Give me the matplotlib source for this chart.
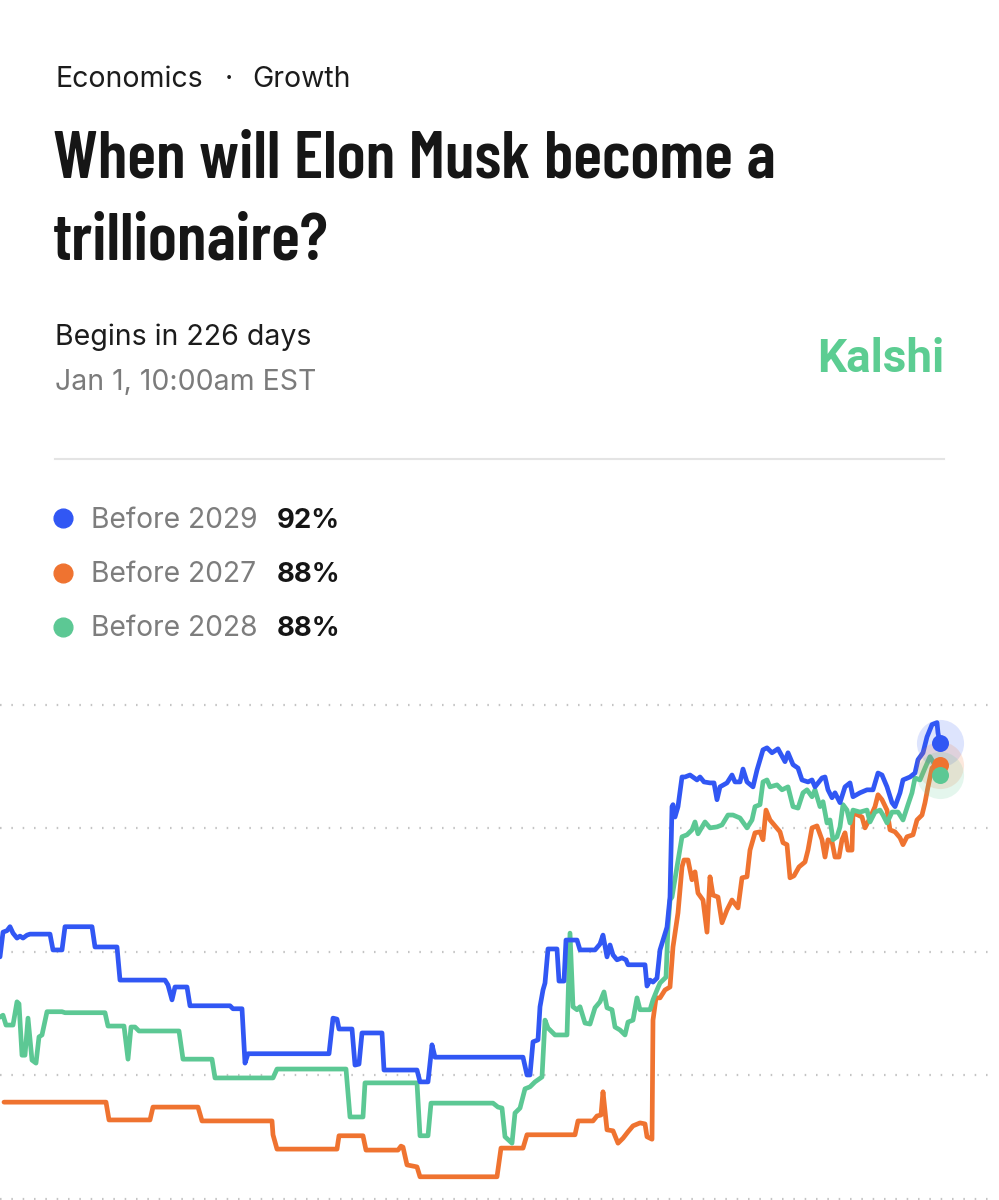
import matplotlib
matplotlib.use("Agg")
import matplotlib.pyplot as plt
from matplotlib import font_manager as fm
from matplotlib.lines import Line2D

# ---- data (chance in %) ----
t_2029 = [0, 3, 7, 10, 13, 17, 20, 23, 27, 30, 50, 53, 62, 65, 92, 95, 117, 120,
          165, 168, 172, 175, 187, 190, 230, 233, 242, 245, 248, 329, 333, 337,
          339, 352, 355, 359, 362, 382, 384, 417, 420, 428, 432, 435, 523, 527,
          530, 533, 538, 540, 543, 545, 548, 557, 559, 564, 566, 577, 580, 595,
          600, 603, 607, 610, 613, 617, 622, 626, 628, 645, 647, 650, 653, 657,
          660, 663, 667, 670, 672, 673, 675, 678, 682, 685, 690, 697, 700, 704,
          710, 714, 717, 720, 727, 732, 735, 740, 743, 747, 753, 757, 763, 767,
          772, 778, 785, 788, 793, 798, 802, 808, 812, 815, 822, 825, 828, 832,
          835, 840, 845, 850, 853, 860, 867, 873, 878, 882, 887, 892, 895, 900,
          903, 910, 915, 918, 923, 927, 932, 937, 938, 940]
v_2029 = [49.0, 54.0, 54.3, 55.1, 53.8, 52.8, 53.2, 52.8, 53.4, 53.6, 53.6, 50.4,
          50.4, 55.1, 55.1, 51.0, 51.0, 44.3, 44.3, 43.3, 40.3, 42.9, 42.9, 39.1,
          39.1, 38.5, 38.5, 27.5, 29.4, 29.4, 36.6, 36.4, 34.4, 34.4, 27.1, 27.3,
          33.6, 33.6, 26.1, 26.1, 23.7, 23.7, 31.2, 28.7, 28.7, 25.1, 25.1, 31.8,
          32.2, 38.9, 42.3, 43.7, 50.6, 50.6, 44.1, 44.1, 52.4, 52.4, 50.4, 50.4,
          51.6, 53.4, 49.0, 51.4, 49.4, 48.4, 48.8, 48.4, 47.4, 47.4, 43.1, 44.3,
          43.9, 44.7, 50.4, 52.4, 55.0, 61.1, 79.4, 79.8, 77.3, 79.4, 85.4, 85.4,
          85.8, 84.8, 85.4, 84.4, 84.2, 84.2, 80.8, 83.4, 84.2, 85.8, 84.4, 84.4,
          87.0, 84.4, 83.4, 86.8, 90.9, 91.3, 90.3, 91.1, 88.5, 90.3, 87.9, 87.2,
          84.8, 84.4, 84.8, 83.4, 85.2, 85.4, 82.8, 81.2, 82.2, 80.2, 83.4, 84.2,
          81.4, 82.2, 82.8, 82.8, 86.2, 85.8, 83.4, 80.2, 79.4, 82.2, 84.8, 85.4,
          86.2, 88.9, 90.3, 93.5, 96.0, 96.4, 94.3, 92.3]

t_2027 = [4, 106, 109, 150, 153, 198, 202, 272, 273, 277, 337, 339, 363, 366, 398,
          401, 403, 407, 417, 420, 497, 501, 523, 527, 575, 578, 593, 597, 601,
          603, 607, 613, 618, 623, 628, 633, 640, 645, 647, 652, 653, 656, 660,
          665, 670, 673, 678, 682, 684, 688, 692, 695, 698, 703, 707, 710, 713,
          718, 722, 727, 732, 738, 742, 747, 750, 755, 760, 763, 766, 770, 775,
          780, 783, 787, 790, 794, 799, 805, 808, 812, 817, 822, 825, 828, 832,
          835, 839, 842, 845, 848, 852, 853, 858, 862, 865, 870, 875, 878, 882,
          887, 890, 895, 900, 903, 907, 913, 917, 922, 925, 928, 932, 937, 940]
v_2027 = [19.6, 19.6, 16.0, 16.0, 18.6, 18.6, 15.8, 15.8, 13.0, 10.1, 10.1, 12.8,
          12.8, 9.9, 9.9, 10.7, 10.5, 6.9, 6.5, 4.5, 4.5, 10.3, 10.3, 13.0, 13.0,
          15.8, 15.8, 16.8, 17.0, 21.7, 14.0, 13.8, 11.3, 12.3, 13.6, 14.8, 15.4,
          15.2, 12.6, 12.1, 36.2, 40.7, 40.7, 42.3, 42.9, 51.0, 57.9, 67.2, 68.6,
          68.6, 64.6, 66.2, 61.9, 60.5, 54.0, 65.2, 61.5, 61.1, 55.9, 58.5, 60.5,
          58.9, 65.0, 65.2, 70.6, 74.1, 74.3, 72.7, 78.7, 76.7, 75.5, 74.3, 72.1,
          71.7, 65.0, 65.4, 67.2, 68.2, 70.6, 75.1, 75.5, 72.7, 69.2, 72.7, 72.3,
          69.2, 69.2, 72.7, 74.1, 70.6, 70.6, 78.1, 77.7, 77.3, 75.1, 77.1, 79.4,
          81.8, 80.8, 78.7, 74.7, 74.3, 73.1, 71.7, 73.3, 73.7, 76.7, 77.7, 80.2,
          83.4, 87.2, 88.3, 87.9]

t_2028 = [0, 3, 6, 13, 17, 19, 22, 25, 28, 32, 36, 39, 42, 47, 62, 65, 105, 108,
          124, 128, 131, 135, 139, 179, 183, 212, 215, 273, 277, 346, 350, 363,
          365, 417, 420, 428, 431, 493, 498, 502, 505, 512, 515, 520, 525, 530,
          535, 542, 545, 548, 555, 567, 570, 573, 577, 580, 585, 590, 595, 600,
          604, 607, 612, 615, 620, 625, 628, 633, 637, 640, 650, 653, 657, 660,
          666, 668, 670, 672, 677, 682, 687, 692, 695, 698, 705, 710, 717, 722,
          728, 733, 740, 747, 752, 755, 760, 763, 767, 770, 777, 782, 788, 793,
          798, 803, 807, 812, 815, 820, 823, 827, 830, 833, 837, 840, 843, 847,
          850, 853, 860, 867, 870, 875, 880, 883, 887, 892, 898, 903, 908, 912,
          915, 920, 925, 930, 933, 940]
v_2028 = [36.8, 37.2, 35.2, 35.2, 39.9, 39.5, 29.1, 29.1, 36.6, 28.1, 27.5, 32.8,
          33.2, 37.9, 37.9, 37.7, 37.7, 35.0, 35.0, 28.3, 34.8, 34.8, 34.0, 34.0,
          28.3, 28.3, 24.5, 24.5, 26.3, 26.3, 16.6, 16.6, 23.5, 23.5, 12.8, 12.8,
          19.4, 19.4, 18.6, 18.4, 12.6, 11.3, 17.4, 18.4, 22.3, 22.7, 23.7, 24.7,
          36.2, 34.6, 33.2, 33.2, 53.8, 38.9, 38.3, 38.9, 35.6, 35.4, 38.7, 39.9,
          41.9, 38.7, 38.3, 34.8, 34.2, 33.2, 35.8, 36.2, 40.7, 38.3, 38.3, 40.3,
          42.3, 43.7, 44.9, 55.1, 60.5, 61.1, 67.2, 73.3, 73.7, 74.7, 76.3, 73.9,
          76.3, 75.1, 75.3, 75.7, 77.7, 77.7, 77.1, 75.1, 76.7, 79.4, 79.8, 84.4,
          84.8, 83.4, 83.8, 82.8, 83.4, 79.4, 79.1, 82.2, 82.8, 81.4, 82.8, 79.4,
          80.4, 76.1, 76.7, 72.7, 73.3, 75.3, 79.8, 78.7, 76.1, 78.7, 78.3, 78.7,
          76.3, 78.3, 78.7, 77.7, 76.1, 78.3, 78.3, 76.7, 79.8, 82.2, 85.2, 84.8,
          87.2, 89.5, 88.5, 85.8]

labels = ["Before 2029", "Before 2027", "Before 2028"]
current = ["92%", "88%", "88%"]
colors = ["#3157f4", "#ef7330", "#5cc894"]
gridvals = [0, 25, 50, 75, 100]

breadcrumb = ["Economics", "\u00b7", "Growth"]
title_lines = ["When will Elon Musk become a", "trillionaire?"]

W, H = 999, 1200
fig = plt.figure(figsize=(W / 100, H / 100), dpi=100)
fig.patch.set_facecolor("white")
renderer = fig.canvas.get_renderer()

SANS = ["Inter", "Roboto", "DejaVu Sans"]


def px(x, y):
    return x / W, 1 - y / H


def title_font():
    """Pick a bold condensed face and a size so line 1 is ~723 px wide."""
    cands = []
    for f in fm.fontManager.ttflist:
        name = (f.fname + " " + f.name).lower()
        w = f.weight if isinstance(f.weight, int) else 700 * (f.weight == "bold")
        if w >= 600 and ("condensed" in name or "narrow" in name) \
                and "italic" not in name and "oblique" not in name:
            cands.append(fm.FontProperties(fname=f.fname))
    cands.append(fm.FontProperties(family="Roboto", weight="bold"))
    best = None
    for fp in cands:
        fp.set_size(40)
        t = fig.text(0, 0, title_lines[0], fontproperties=fp)
        wpx = t.get_window_extent(renderer).width
        t.remove()
        size = 40 * 723 / wpx
        score = abs(size - 48.5)
        if best is None or score < best[0]:
            best = (score, fp, size)
    fp = best[1].copy()
    fp.set_size(min(best[2], 49))
    return fp


# header
for word, x, ha in zip(breadcrumb, [55, 229, 252], ["left", "center", "left"]):
    fig.text(*px(x, 87), word, family=SANS, fontsize=20.5, color="#1c1c1c",
             va="baseline", ha=ha)
tfp = title_font()
for i, line in enumerate(title_lines):
    fig.text(*px(53, 177 + 83 * i), line, fontproperties=tfp,
             color="#161616", va="baseline")
fig.text(*px(55, 345), "Begins in 226 days", family=SANS, fontsize=20.5,
         color="#1c1c1c", va="baseline")
fig.text(*px(55, 390), "Jan 1, 10:00am EST", family=SANS, fontsize=20.5,
         color="#7b7b7b", va="baseline")
fig.text(*px(944, 372), "Kalshi", family=["Roboto", "DejaVu Sans"], fontsize=33,
         weight="bold", color="#5ccd92", va="baseline", ha="right")
fig.add_artist(Line2D([55 / W, 944 / W], [1 - 459 / H] * 2, color="#e4e4e4",
                      lw=1.5, transform=fig.transFigure))

# legend rows
for i, (lab, cur, c) in enumerate(zip(labels, current, colors)):
    yc = 518 + 54.5 * i
    fig.add_artist(Line2D([63 / W], [1 - yc / H], marker="o", markersize=13.5,
                          color=c, transform=fig.transFigure))
    fig.text(*px(91, yc + 9.5), lab, family=SANS, fontsize=20.3,
             color="#7d7d7d", va="baseline")
    fig.text(*px(277, yc + 9.5), cur, family=SANS, fontsize=19.8,
             weight="bold", color="#151515", va="baseline")

# chart
ax = fig.add_axes([0, 0, 1, 510 / H])
ax.set_xlim(0, W)
ax.set_ylim(-0.2, 103.0)
ax.axis("off")
for g in gridvals:
    ax.axhline(g, xmin=0, xmax=0.992, color="#c4c4c4", lw=1.6,
               linestyle=(0, (0.7, 4.4)), zorder=1)

series = [(t_2027, v_2027, colors[1]), (t_2028, v_2028, colors[2]),
          (t_2029, v_2029, colors[0])]
for t, v, c in series:
    ax.plot(t, v, color=c, lw=3.4, solid_joinstyle="round",
            solid_capstyle="round", zorder=3)

# end markers with halos
ends = [(t_2029, v_2029, colors[0]), (t_2027, v_2027, colors[1]),
        (t_2028, v_2028, colors[2])]
for t, v, c in ends:
    ax.scatter([t[-1]], [v[-1]], s=1150, color=c, alpha=0.16, lw=0, zorder=4)
for t, v, c in ends:
    ax.scatter([t[-1]], [v[-1]], s=150, color=c, lw=0, zorder=5)

fig.savefig("out.png", dpi=100, facecolor="white")
